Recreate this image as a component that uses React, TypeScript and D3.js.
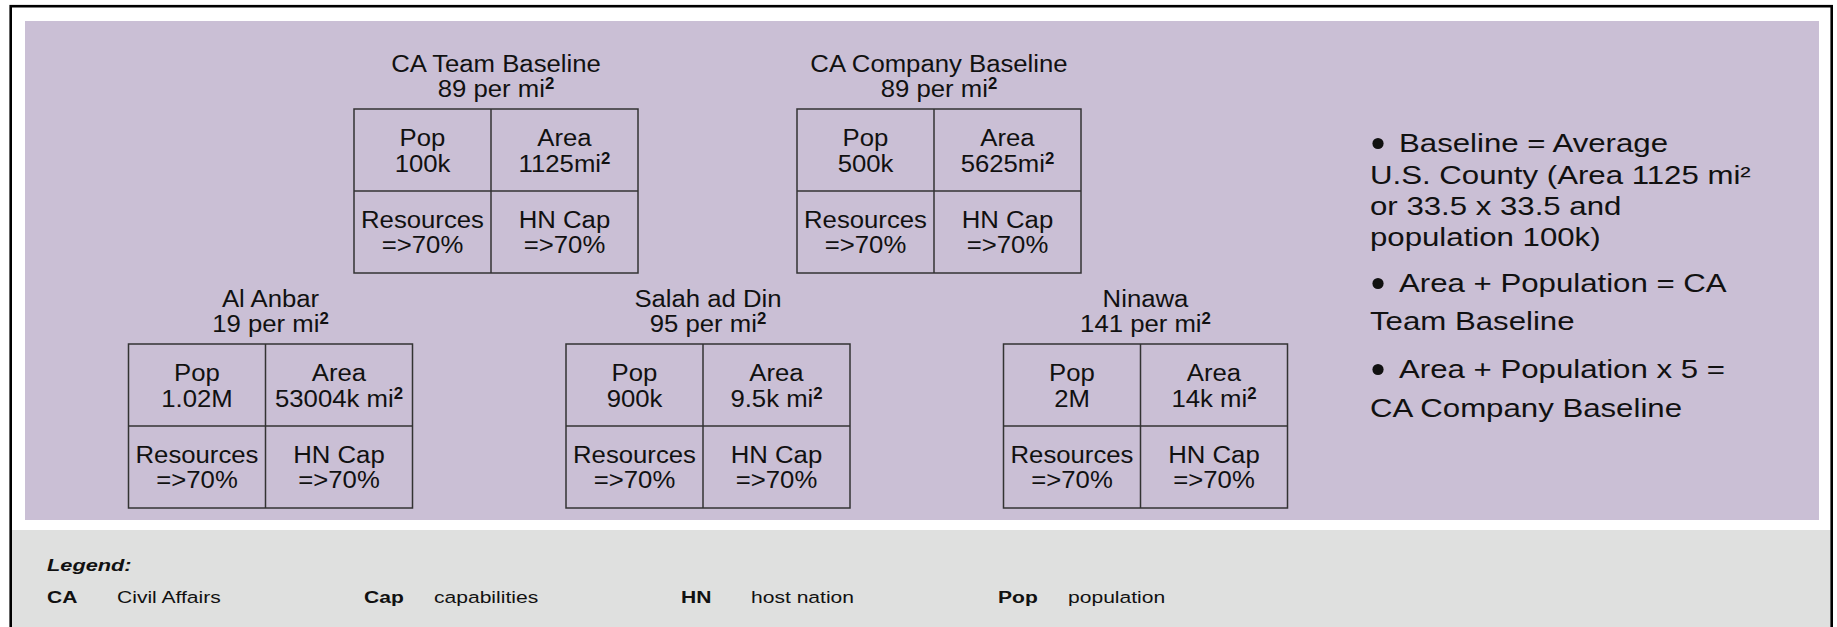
import { useEffect, useRef } from "react";
import * as d3 from "d3";

// baselines (top row) and provinces (bottom row)
const BASE_NAMES = ["CA Team Baseline", "CA Company Baseline"];
const BASE_DENSITY = [89, 89];
const BASE_POP = ["100k", "500k"];
const BASE_AREA = ["1125mi", "5625mi"];

const PROV_NAMES = ["Al Anbar", "Salah ad Din", "Ninawa"];
const PROV_DENSITY = [19, 95, 141];
const PROV_POP = ["1.02M", "900k", "2M"];
const PROV_AREA = ["53004k mi", "9.5k mi", "14k mi"];

const RESOURCES = "=>70%";
const HN_CAP = "=>70%";

// right-hand notes, one array per paragraph (wrapped lines)
const NOTE_1 = ["Baseline = Average", "U.S. County (Area 1125 mi²", "or 33.5 x 33.5 and", "population 100k)"];
const NOTE_2 = ["Area + Population = CA", "Team Baseline"];
const NOTE_3 = ["Area + Population x 5 =", "CA Company Baseline"];

const LEGEND_ABBR = ["CA", "Cap", "HN", "Pop"];
const LEGEND_TERMS = ["Civil Affairs", "capabilities", "host nation", "population"];

const FONT = "'Liberation Sans', Arial, Helvetica, sans-serif";
const INK = "#111";

type Box = { name: string; density: number; pop: string; area: string };

export default function App() {
  const ref = useRef<SVGSVGElement>(null);

  useEffect(() => {
    const el = ref.current;
    if (!el) return;
    const W = 1837, H = 627;
    const svg = d3.select(el).attr("viewBox", `0 0 ${W} ${H}`).attr("width", W).attr("height", H);
    svg.selectAll("*").remove();

    // frame + panels
    svg.append("rect").attr("x", 0).attr("y", 0).attr("width", W).attr("height", H).attr("fill", "#fff");
    svg.append("rect").attr("x", 25).attr("y", 21).attr("width", 1794).attr("height", 499).attr("fill", "#CABFD5");
    svg.append("rect").attr("x", 11).attr("y", 530).attr("width", 1820).attr("height", 120).attr("fill", "#DFE0DF");
    svg.append("rect").attr("x", 10.7).attr("y", 6.2).attr("width", 1821).attr("height", 640)
      .attr("fill", "none").attr("stroke", "#000").attr("stroke-width", 2.6);

    const BW = 284, COL = 137, RH = 82;
    const topRow: Box[] = BASE_NAMES.map((n, i) => ({ name: n, density: BASE_DENSITY[i], pop: BASE_POP[i], area: BASE_AREA[i] }));
    const botRow: Box[] = PROV_NAMES.map((n, i) => ({ name: n, density: PROV_DENSITY[i], pop: PROV_POP[i], area: PROV_AREA[i] }));
    const xTop = d3.scalePoint<string>().domain(BASE_NAMES).range([354, 797]);
    const xBot = d3.scalePoint<string>().domain(PROV_NAMES).range([128.5, 1003.5]);

    const BOX_FS = 24.5, BOX_SX = 1.05;
    const label = (g: d3.Selection<SVGGElement, unknown, null, undefined>, x: number, y: number, txt: string, sup = false) => {
      const t = g.append("text").attr("transform", `translate(${x},${y}) scale(${BOX_SX},1)`)
        .attr("text-anchor", "middle").attr("font-family", FONT).attr("font-size", BOX_FS).attr("fill", INK);
      t.append("tspan").text(txt);
      if (sup) t.append("tspan").attr("font-size", 16).attr("font-weight", "bold").attr("dy", -8.5).text("2");
    };

    const drawBox = (d: Box, x0: number, y0: number) => {
      const g = svg.append("g");
      // title
      label(g, x0 + BW / 2, y0 - 37, d.name);
      label(g, x0 + BW / 2, y0 - 12, `${d.density} per mi`, true);
      // grid
      g.append("rect").attr("x", x0).attr("y", y0).attr("width", BW).attr("height", RH * 2)
        .attr("fill", "none").attr("stroke", "#333").attr("stroke-width", 1.5);
      g.append("line").attr("x1", x0 + COL).attr("x2", x0 + COL).attr("y1", y0).attr("y2", y0 + RH * 2).attr("stroke", "#333").attr("stroke-width", 1.5);
      g.append("line").attr("x1", x0).attr("x2", x0 + BW).attr("y1", y0 + RH).attr("y2", y0 + RH).attr("stroke", "#333").attr("stroke-width", 1.5);
      const cL = x0 + COL / 2, cR = x0 + COL + (BW - COL) / 2;
      label(g, cL, y0 + 37, "Pop");
      label(g, cL, y0 + 63, d.pop);
      label(g, cR, y0 + 37, "Area");
      label(g, cR, y0 + 63, d.area, true);
      label(g, cL, y0 + RH + 37, "Resources");
      label(g, cL, y0 + RH + 62, RESOURCES);
      label(g, cR, y0 + RH + 37, "HN Cap");
      label(g, cR, y0 + RH + 62, HN_CAP);
    };
    topRow.forEach((d) => drawBox(d, xTop(d.name) ?? 0, 109));
    botRow.forEach((d) => drawBox(d, xBot(d.name) ?? 0, 344));

    // notes on the right
    const NOTE_FS = 26, NOTE_SX = 1.2;
    const notes = [
      { lines: NOTE_1, ys: [152, 184, 215, 246] },
      { lines: NOTE_2, ys: [292, 330] },
      { lines: NOTE_3, ys: [378, 417] },
    ];
    notes.forEach((p) => {
      svg.append("circle").attr("cx", 1378).attr("cy", p.ys[0] - 8.5).attr("r", 5.6).attr("fill", INK);
      p.lines.forEach((ln, i) => {
        svg.append("text").attr("transform", `translate(${i === 0 ? 1399 : 1370},${p.ys[i]}) scale(${NOTE_SX},1)`)
          .attr("font-family", FONT).attr("font-size", NOTE_FS).attr("fill", INK).text(ln);
      });
    });

    // legend
    const LEG_FS = 17, LEG_SX = 1.24;
    svg.append("text").attr("transform", `translate(47,571) scale(1.28,1)`)
      .attr("font-family", FONT).attr("font-size", LEG_FS).attr("font-weight", "bold").attr("font-style", "italic").attr("fill", INK).text("Legend:");
    const xl = d3.scaleLinear().domain([0, LEGEND_ABBR.length - 1]).range([47, 998]);
    LEGEND_ABBR.forEach((a, i) => {
      svg.append("text").attr("transform", `translate(${xl(i)},603) scale(${LEG_SX},1)`)
        .attr("font-family", FONT).attr("font-size", LEG_FS).attr("font-weight", "bold").attr("fill", INK).text(a);
      svg.append("text").attr("transform", `translate(${xl(i) + 70},603) scale(${LEG_SX},1)`)
        .attr("font-family", FONT).attr("font-size", LEG_FS).attr("fill", INK).text(LEGEND_TERMS[i]);
    });
  }, []);

  return (
    <div style={{ position: "absolute", left: 0, top: 0, width: 1837, height: 627, overflow: "hidden" }}>
      <svg ref={ref} role="img" aria-label="CA baselines vs provinces" style={{ display: "block" }} />
    </div>
  );
}
